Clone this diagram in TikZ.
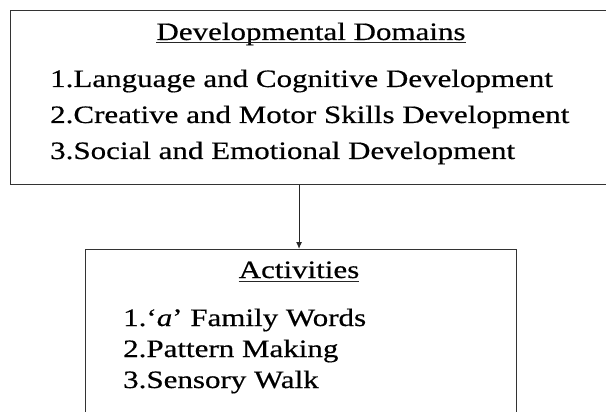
\documentclass[tikz,border=0pt]{standalone}
\usepackage{fontspec}
\setmainfont{Liberation Serif}[FakeStretch=1.24,FakeBold=0.5]
\usetikzlibrary{arrows.meta}
\begin{document}
\begin{tikzpicture}[x=1pt,y=1pt,
  frame/.style={draw=black!80, line width=1.1pt, inner sep=0pt, anchor=north west},
  heading/.style={anchor=base, inner sep=0pt, font=\fontsize{25}{30}\selectfont},
  item/.style={anchor=base west, inner sep=0pt, font=\fontsize{25}{30}\selectfont},
  uline/.style={draw=black!85, line width=1pt},
  link/.style={draw=black!85, line width=1pt, -{Latex[length=7pt,width=6pt]}}]
\useasboundingbox (0,0) rectangle (606,-412);
\clip (0,0) rectangle (606,-412);

% upper box: developmental domains
\node[frame, minimum width=602pt, minimum height=174pt] (domains) at (10,-10) {};
\node[heading] (dtitle) at (311,-40) {Developmental Domains};
\draw[uline] ([yshift=-3pt]dtitle.base west) -- ([yshift=-3pt]dtitle.base east);
\node[item] (d1) at (50,-87)  {1.Language and Cognitive Development};
\node[item] (d2) at (50,-123) {2.Creative and Motor Skills Development};
\node[item] (d3) at (50,-159) {3.Social and Emotional Development};

% lower box: activities
\node[frame, minimum width=431pt, minimum height=180pt] (activities) at (85,-249) {};
\node[heading] (atitle) at (299,-278) {Activities};
\draw[uline] ([yshift=-3pt]atitle.base west) -- ([yshift=-3pt]atitle.base east);
\node[item] (a1) at (123,-326) {1.`\textit{a}' Family Words};
\node[item] (a2) at (123,-357) {2.Pattern Making};
\node[item] (a3) at (123,-388) {3.Sensory Walk};

% connector
\coordinate (target) at ([xshift=-2pt]activities.north);
\draw[link] (target |- domains.south) -- (target);
\end{tikzpicture}
\end{document}
